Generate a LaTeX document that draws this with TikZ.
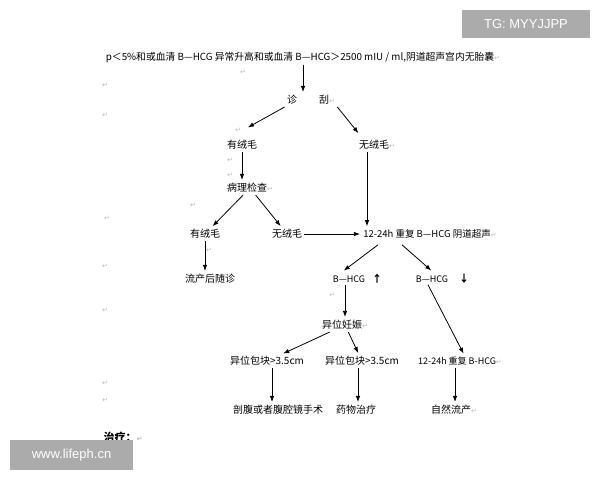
\documentclass[tikz,border=0pt]{standalone}
\usepackage{fontspec}
\setmainfont{Noto Sans CJK SC}
\newfontfamily\markfont{DejaVu Sans}
\newfontfamily\wmfont{Liberation Sans}
\usetikzlibrary{positioning, arrows.meta}
\newcommand{\pmk}{{\markfont\color{gray!55}\fontsize{7}{7}\selectfont ↵}}

\begin{document}
\begin{tikzpicture}[x=1pt,y=-1pt,>={Latex[length=6pt,width=4.5pt]},shorten >=1pt,line width=0.8pt,
    every node/.style={font=\fontsize{10}{12}\selectfont, inner sep=2pt},
    pm/.style={font=\markfont\fontsize{7}{7}\selectfont, text=gray!55, inner sep=0pt},
    stamp/.style={fill=black!33, text=white, font=\wmfont\fontsize{13}{15}\selectfont, inner sep=0pt}]

      \useasboundingbox (0,0) rectangle (600,480);

      \node (top)  at (303,57)  {\fontsize{9.8}{11}\selectfont p＜5\%和或血清 B—HCG 异常升高和或血清 B—HCG＞2500 mIU / ml,阴道超声宫内无胎囊\pmk};
      \node (zhen) at (292,100) {诊};
      \node (gua)  at (327,100) {刮\pmk};
      \node (you1) at (242,145) {有绒毛};
      \node (wu1)  at (377,145) {无绒毛\pmk};
      \node (bingli) at (250,188) {病理检查\pmk};
      \node (you2) at (205,234) {有绒毛};
      \node (wu2)  at (287,234) {无绒毛};
      \node (rep)  at (430,234) {\fontsize{9.5}{11}\selectfont 12-24h 重复 B—HCG 阴道超声\pmk};
      \node (abort) at (210,279) {流产后随诊};
      \node (hcgup) at (349,279) {\fontsize{9}{11}\selectfont B—HCG};
      \node (uparr) at (377,279) {\bfseries ↑};
      \node (hcgdn) at (432,279) {\fontsize{9}{11}\selectfont B—HCG};
      \node (dnarr) at (464,279) {\bfseries ↓};
      \node (ect)  at (345,325) {异位妊娠\pmk};
      \node (massl) at (267,361) {异位包块>3.5cm};
      \node (massr) at (362,361) {异位包块>3.5cm};
      \node (rep2) at (460,361) {\fontsize{9}{11}\selectfont 12-24h 重复 B-HCG\pmk};
      \node (oper) at (278,410) {剖腹或者腹腔镜手术};
      \node (drug) at (356,410) {药物治疗};
      \node (natur) at (454,410) {自然流产\pmk};
      \node (treat) at (123,437) {\fontsize{11}{13}\selectfont\bfseries 治疗：\pmk};

      % stray paragraph marks
      \foreach \px/\py in {105/85, 243/72, 105/115, 238/130, 230/160, 230/175, 193/205, 107/218, 209/250, 105/266, 332/295, 105/310, 105/383, 105/400}
        \node[pm] at (\px,\py) {↵};

      \path[->] (top)  edge (top |- zhen.north)
                (zhen.south west) edge ([xshift=5pt,yshift=10pt]you1.north)
                (gua.south east) edge ([xshift=-18pt,yshift=4pt]wu1.north)
                (you1) edge (you1 |- bingli.north)
                (bingli) edge (you2)
                         edge (wu2)
                (wu2)  edge (rep)
                ([xshift=-10pt]wu1.south) edge ([xshift=-10pt]wu1.south |- rep.north)
                ([xshift=-52pt,yshift=-4pt]rep.south) edge ([xshift=-6pt,yshift=2pt]hcgup.north)
                ([xshift=-28pt,yshift=-4pt]rep.south) edge ([yshift=2pt]hcgdn.north)
                (you2) edge (you2 |- abort.north)
                (hcgup.south -| ect.north) edge (ect)
                ([xshift=-4pt]hcgdn.south) edge ([xshift=4pt]rep2.north)
                (ect)  edge (massl)
                       edge (massr)
                ([xshift=5pt]massl.south) edge ([xshift=5pt]massl.south |- oper.north)
                ([xshift=-4pt]massr.south) edge ([xshift=-4pt]massr.south |- drug.north)
                ([xshift=-5pt]rep2.south) edge ([xshift=-5pt]rep2.south |- natur.north);

      % watermarks
      \node[stamp, minimum width=128pt, minimum height=28pt] (tg)  at (526,24)  {TG: MYYJJPP};
      \node[stamp, minimum width=123pt, minimum height=30pt] (web) at (71.5,455) {www.lifeph.cn};
    \end{tikzpicture}
\end{document}
